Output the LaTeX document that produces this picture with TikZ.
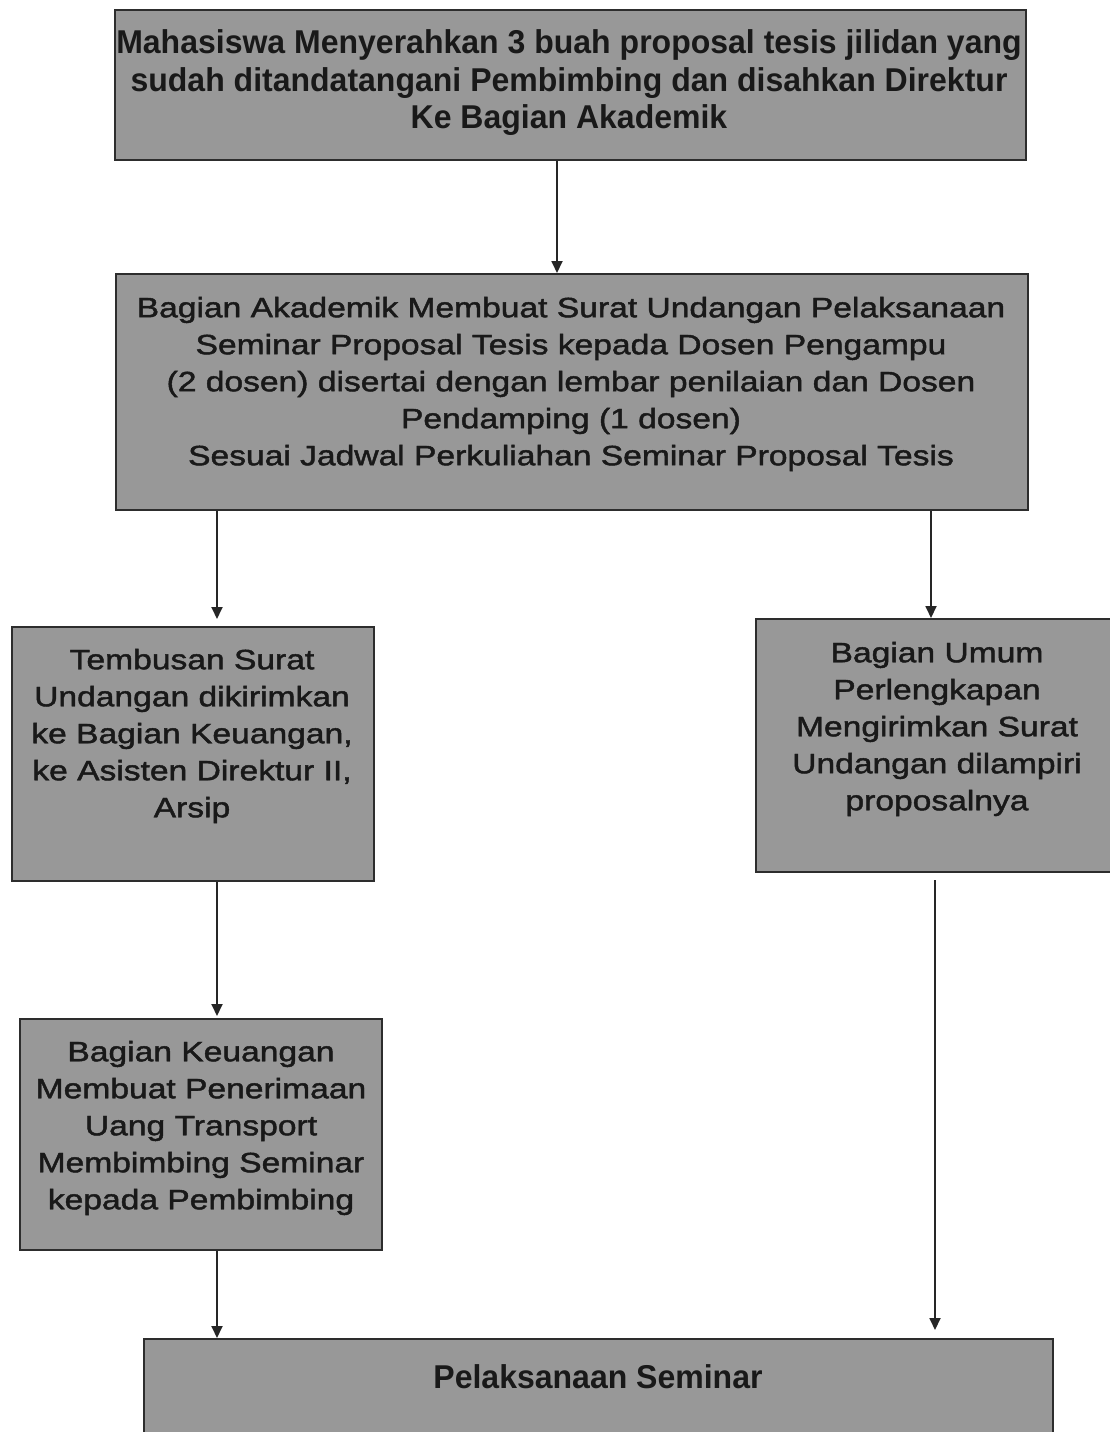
\documentclass[tikz,border=0pt]{standalone}
\usepackage{fontspec}
\setmainfont{Liberation Sans}
\newfontfamily\tallfont[FakeStretch=0.97]{Liberation Sans Bold}
\newfontfamily\widefont[FakeStretch=1.2,FakeBold=1.6]{Liberation Sans}
\usetikzlibrary{arrows.meta}
\definecolor{boxfill}{RGB}{152,152,152}
\definecolor{boxline}{RGB}{45,45,45}
\tikzset{
  stepbox/.style={draw=boxline, line width=2.4pt, fill=boxfill, inner sep=0pt, anchor=north west},
  tallstyle/.style={align=center, inner sep=0pt, text=black!90, font=\tallfont\fontsize{33pt}{37.5pt}\selectfont},
  widestyle/.style={align=center, inner sep=0pt, text=black!90, font=\widefont\fontsize{28pt}{37pt}\selectfont},
  arr/.style={draw=black!85, line width=1.8pt, -{Triangle[length=12pt,width=11pt]}}
}
\begin{document}
\begin{tikzpicture}[x=1pt,y=-1pt]
\useasboundingbox (0,0) rectangle (1110,1432);
\clip (0,0) rectangle (1110,1432);
\fill[white] (0,0) rectangle (1110,1432);

% process boxes
\node[stepbox, minimum width=911pt, minimum height=150pt] (b1) at (114,9) {};
\node[stepbox, minimum width=912pt, minimum height=236pt] (b2) at (115,273) {};
\node[stepbox, minimum width=362pt, minimum height=254pt] (b3) at (11,626) {};
\node[stepbox, minimum width=360pt, minimum height=253pt] (b4) at (755,618) {};
\node[stepbox, minimum width=362pt, minimum height=231pt] (b5) at (19,1018) {};
\node[stepbox, minimum width=909pt, minimum height=120pt] (b6) at (143,1338) {};

% box texts
\node[tallstyle] (t1) at (569,83) {Mahasiswa Menyerahkan 3 buah proposal tesis jilidan yang\\sudah ditandatangani Pembimbing dan disahkan Direktur\\Ke Bagian Akademik};
\node[widestyle] (t2) at (571,384) {Bagian Akademik Membuat Surat Undangan Pelaksanaan\\Seminar Proposal Tesis kepada Dosen Pengampu\\(2 dosen) disertai dengan lembar penilaian dan Dosen\\Pendamping (1 dosen)\\Sesuai Jadwal Perkuliahan Seminar Proposal Tesis};
\node[widestyle] (t3) at (192,736) {Tembusan Surat\\Undangan dikirimkan\\ke Bagian Keuangan,\\ke Asisten Direktur II,\\Arsip};
\node[widestyle] (t4) at (937,729) {Bagian Umum\\Perlengkapan\\Mengirimkan Surat\\Undangan dilampiri\\proposalnya};
\node[widestyle] (t5) at (201,1128) {Bagian Keuangan\\Membuat Penerimaan\\Uang Transport\\Membimbing Seminar\\kepada Pembimbing};
\node[tallstyle] (t6) at (598,1377) {Pelaksanaan Seminar};

% connector columns
\coordinate (colA) at (557,0);
\coordinate (colL) at (217,0);
\coordinate (colR) at (931,0);
\coordinate (colS) at (935,0);

% connectors
\draw[arr] (b1.south -| colA) -- (b2.north -| colA);
\draw[arr, shorten >=7pt] (b2.south -| colL) -- (b3.north -| colL);
\draw[arr] (b2.south -| colR) -- (b4.north -| colR);
\draw[arr, shorten >=2pt] (b3.south -| colL) -- (b5.north -| colL);
\draw[arr] (b5.south -| colL) -- (b6.north -| colL);
\draw[arr, shorten <=7pt, shorten >=8pt] (b4.south -| colS) -- (b6.north -| colS);
\end{tikzpicture}
\end{document}
